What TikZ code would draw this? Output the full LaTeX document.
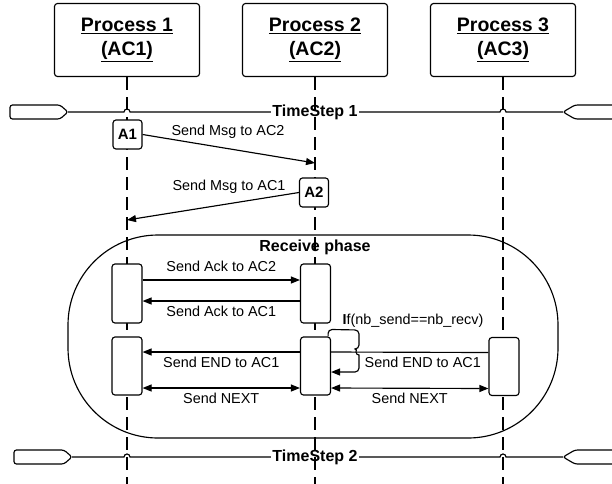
\documentclass[tikz,border=0pt]{standalone}
\usepackage{fontspec}
\setmainfont{Liberation Sans}
\usetikzlibrary{arrows.meta,positioning,calc}

\begin{document}
\begin{tikzpicture}[x=1pt, y=-1pt,
    line width=1.15pt,
    every node/.style={font=\fontsize{14.4}{17}\selectfont},
    process/.style={rectangle, draw, rounded corners=3pt, fill=white, minimum width=145pt, minimum height=73pt, align=center, font=\fontsize{19.5}{24}\selectfont\bfseries},
    lifeline/.style={dash pattern=on 13pt off 7pt},
    action/.style={rectangle, draw, rounded corners=3pt, fill=white, minimum width=29pt, minimum height=29pt, inner sep=0pt, font=\fontsize{15}{17}\selectfont\bfseries},
    activity/.style={rectangle, draw, rounded corners=3pt, fill=white, minimum width=30pt, minimum height=58pt},
    msg/.style={-{Triangle[length=9pt,width=7pt]}},
    twoway/.style={{Triangle[length=9pt,width=7pt]}-{Triangle[length=9pt,width=7pt]}},
    timestep/.style={font=\fontsize{16}{18}\selectfont\bfseries, inner sep=1pt},
    pill/.style={rounded corners=2.5pt}
]
\clip (0,0) rectangle (612,483);

% Processes and their lifelines
\foreach \i/\x in {1/127,2/315,3/503} {
    \node[process] (proc\i) at (\x,40) {\underline{Process \i}\\\underline{(AC\i)}};
    \draw[lifeline] (proc\i.south) -- (proc\i.south |- 0,490);
}

% Time steps
\foreach \n/\y/\l in {1/112/10,2/457/14} {
    \node[timestep] (ts\n) at (315,\y) {TimeStep \n};
    \coordinate (tsl\n) at (\l+58,\y);
    \coordinate (tsr\n) at (563,\y);
    \draw[pill] ($(tsl\n)+(-8,-7)$) -- ($(tsl\n)+(-58,-7)$) -- ($(tsl\n)+(-58,7)$) -- ($(tsl\n)+(-8,7)$) -- (tsl\n) -- cycle;
    \draw[pill] (tsr\n) -- ($(tsr\n)+(12,-7)$) -- ($(tsr\n)+(60,-7)$) -- ($(tsr\n)+(60,7)$) -- ($(tsr\n)+(12,7)$) -- cycle;
    \draw (tsl\n) -- (124,\y) arc[start angle=180, end angle=0, radius=3pt] -- (ts\n.west);
    \draw (ts\n.east) -- (500,\y) arc[start angle=180, end angle=0, radius=3pt] -- (tsr\n);
}

% First messages
\node[action] (act1) at (127.5,134.5) {A1};
\node[action] (act2) at (314,192.5) {A2};
\coordinate (hit2) at (315,163);
\coordinate (hit1) at (127,220);
\draw[msg] (act1.east) -- (hit2);
\draw[msg] (act2.west) -- (hit1);
\node (lblmsg2) at (228,132) {Send Msg to AC2};
\node (lblmsg1) at (229,187) {Send Msg to AC1};

% Receive phase
\node[draw, rounded corners=90pt, minimum width=490pt, minimum height=203pt] (recv) at (313,336.5) {};
\node[font=\fontsize{16}{18}\selectfont\bfseries] (recvlbl) at (315,247) {Receive phase};

\node[activity, minimum height=59pt] (ack1) at (127,293.5) {};
\node[activity, minimum height=59pt] (ack2) at (315.5,293.5) {};
\node[activity] (end1) at (127,366) {};
\node[activity] (end2) at (315.5,366) {};
\node[activity] (end3) at (504,366.5) {};

\draw[msg] ([yshift=13.5pt]ack1.east) -- ([yshift=13.5pt]ack2.west) node[midway, yshift=14pt] {Send Ack to AC2};
\draw[msg] ([yshift=-7.5pt]ack2.west) -- ([yshift=-7.5pt]ack1.east) node[midway, yshift=-10pt] {Send Ack to AC1};
\draw[msg] ([yshift=14pt]end2.west) -- ([yshift=14pt]end1.east) node[midway, yshift=-10pt] {Send END to AC1};
\draw[twoway] ([yshift=-22pt]end1.east) -- ([yshift=-22pt]end2.west) node[midway, yshift=-10pt] {Send NEXT};
\draw ([yshift=14pt]end3.west) -- ([yshift=14pt]end2.east) node[midway, xshift=13pt, yshift=-10pt] {Send END to AC1};
\draw[twoway] ([yshift=-22pt]end2.east) -- ([yshift=-22pt]end3.west) node[midway, yshift=-10pt] {Send NEXT};

% Check before END
\draw[msg, rounded corners=4pt] ([xshift=-3pt]end2.north east) -- ++(0,-7) -- (359,330) -- (359,349)
    [sharp corners] arc[start angle=90, end angle=270, radius=3pt]
    [rounded corners=4pt] -- (359,372) -- ([yshift=-6pt]end2.east);
\node (cond) at (413,321) {\textbf{I}f(nb\_send==nb\_recv)};

\end{tikzpicture}
\end{document}
